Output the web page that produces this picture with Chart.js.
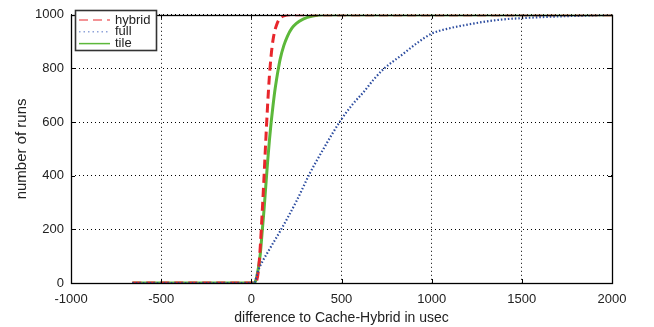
<!DOCTYPE html>
<html><head><meta charset="utf-8">
<script src="https://cdn.jsdelivr.net/npm/chart.js@4.4.0/dist/chart.umd.min.js"></script>
<style>html,body{margin:0;padding:0;background:#fff}#wrap{width:654px;height:327px}</style>
</head><body><div id="wrap"><canvas id="c" width="654" height="327"></canvas></div>
<script>
const xTicks = [-1000, -500, 0, 500, 1000, 1500, 2000];
const yTicks = [0, 200, 400, 600, 800, 1000];
const seriesNames = ['hybrid', 'full', 'tile'];

const hybridX = [-660, 20, 30, 40, 50, 60, 70, 80, 90, 100, 110, 120, 130, 140, 150, 160, 180, 210, 2000];
const hybridY = [0, 0, 10, 50, 140, 260, 390, 530, 660, 770, 850, 905, 940, 962, 978, 988, 996, 1000, 1000];

const fullX = [-660, 15, 40, 100, 158, 250, 326, 400, 494, 560, 625, 680, 737, 830, 920, 1000, 1100, 1204, 1300, 1400, 1512, 1700, 1850, 2000];
const fullY = [0, 0, 50, 125, 191, 305, 411, 500, 605, 665, 714, 760, 800, 848, 895, 930, 950, 964, 975, 983, 988, 994, 997, 1000];

const tileX = [-660, 15, 25, 40, 50, 60, 70, 80, 90, 100, 110, 120, 130, 140, 150, 160, 180, 200, 225, 250, 290, 340, 400, 2000];
const tileY = [0, 0, 10, 60, 110, 190, 270, 360, 450, 530, 600, 660, 715, 760, 800, 835, 885, 920, 950, 968, 985, 995, 1000, 1000];

const pts = (xs, ys) => xs.map((x, i) => ({x, y: ys[i]}));
const FONT = '"Liberation Sans", Arial, Helvetica, sans-serif';

const framePlugin = {
  id: 'frame',
  afterDatasetsDraw(chart) {
    const {ctx, chartArea: a, scales: {x, y}} = chart;
    ctx.save();
    ctx.strokeStyle = '#000';
    ctx.lineWidth = 1;
    ctx.setLineDash([]);
    ctx.beginPath();
    xTicks.forEach(v => {
      const px = Math.round(x.getPixelForValue(v)) + 0.5;
      ctx.moveTo(px, a.bottom); ctx.lineTo(px, a.bottom - 4);
      ctx.moveTo(px, a.top); ctx.lineTo(px, a.top + 4);
    });
    yTicks.forEach(v => {
      const py = Math.round(y.getPixelForValue(v)) + 0.5;
      ctx.moveTo(a.left, py); ctx.lineTo(a.left + 4, py);
      ctx.moveTo(a.right, py); ctx.lineTo(a.right - 4, py);
    });
    ctx.stroke();
    ctx.lineWidth = 1.3;
    ctx.strokeRect(Math.round(a.left) + 0.5, Math.round(a.top) + 0.5, Math.round(a.right - a.left), Math.round(a.bottom - a.top));
    // legend
    const lx = 75, ly = 10, lw = 81, lh = 40;
    ctx.fillStyle = '#fff';
    ctx.fillRect(lx, ly, lw, lh);
    const items = [
      {c: '#e8262c', d: [9, 5], w: 1.2},
      {c: '#8fa3d9', d: [1.5, 3], w: 1.5},
      {c: '#5cb83a', d: [], w: 1.5}
    ];
    ctx.font = '13px ' + FONT;
    ctx.fillStyle = '#222';
    ctx.textBaseline = 'middle';
    items.forEach((it, i) => {
      const yy = ly + 10 + i * 11.8;
      ctx.beginPath();
      ctx.strokeStyle = it.c; ctx.lineWidth = it.w; ctx.setLineDash(it.d);
      ctx.moveTo(lx + 4, yy); ctx.lineTo(lx + 35, yy); ctx.stroke();
      ctx.setLineDash([]);
      ctx.fillText(seriesNames[i], lx + 40, yy);
    });
    ctx.lineWidth = 1.6;
    ctx.strokeStyle = '#333';
    ctx.strokeRect(lx + 0.5, ly + 0.5, lw, lh);
    ctx.restore();
  }
};

new Chart(document.getElementById('c'), {
  type: 'line',
  data: {
    datasets: [
      {label: seriesNames[1], data: pts(fullX, fullY), borderColor: '#2d4da0', borderWidth: 2.2, borderDash: [1.5, 2], pointRadius: 0, cubicInterpolationMode: 'monotone', fill: false},
      {label: seriesNames[0], data: pts(hybridX, hybridY), borderColor: '#e8262c', borderWidth: 3, borderDash: [9, 5], pointRadius: 0, cubicInterpolationMode: 'monotone', fill: false},
      {label: seriesNames[2], data: pts(tileX, tileY), borderColor: '#5cb83a', borderWidth: 3, pointRadius: 0, cubicInterpolationMode: 'monotone', fill: false}
    ]
  },
  options: {
    responsive: false,
    animation: false,
    events: [],
    layout: {padding: {top: 8, right: 42, left: 0, bottom: 0}},
    plugins: {legend: {display: false}, tooltip: {enabled: false}},
    scales: {
      x: {
        type: 'linear', min: -1000, max: 2000,
        afterBuildTicks: s => { s.ticks = xTicks.map(v => ({value: v})); },
        afterFit: s => { s.height = 44; },
        grid: {color: '#000', lineWidth: 1, drawTicks: false},
        border: {display: false, dash: [1, 3]},
        ticks: {color: '#222', font: {family: FONT, size: 13}, padding: 9, maxRotation: 0, callback: v => String(v)},
        title: {display: true, text: 'difference to Cache-Hybrid in usec', color: '#222', font: {family: FONT, size: 14}, padding: {top: 0, bottom: 0}}
      },
      y: {
        min: 0, max: 1000,
        afterBuildTicks: s => { s.ticks = yTicks.map(v => ({value: v})); },
        afterFit: s => { s.width = 71; },
        grid: {color: '#000', lineWidth: 1, drawTicks: false},
        border: {display: false, dash: [1, 3]},
        ticks: {color: '#222', font: {family: FONT, size: 13}, padding: 7, callback: v => String(v)},
        title: {display: true, text: 'number of runs', color: '#222', font: {family: FONT, size: 15}, padding: {top: 13, bottom: 0}}
      }
    }
  },
  plugins: [framePlugin]
});
</script></body></html>
